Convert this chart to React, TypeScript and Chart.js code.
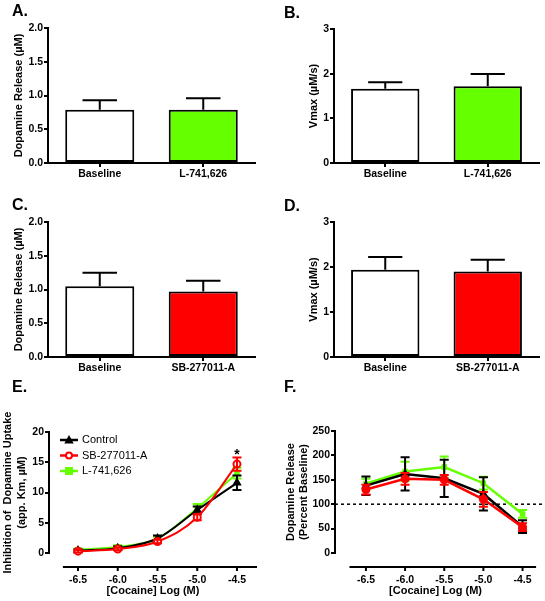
import React, { useEffect, useRef } from "react";
import { Chart, registerables } from "chart.js";

Chart.register(...registerables);
Chart.defaults.font.family = "'Liberation Sans', Arial, sans-serif";
Chart.defaults.color = "#000";

// ---------------- data ----------------
const groupsAB = ["Baseline", "L-741,626"];
const groupsCD = ["Baseline", "SB-277011-A"];

const releaseMeanA = [0.79, 0.79];
const releaseSemA = [0.14, 0.17];
const vmaxMeanB = [1.66, 1.72];
const vmaxSemB = [0.15, 0.27];
const releaseMeanC = [1.05, 0.97];
const releaseSemC = [0.2, 0.16];
const vmaxMeanD = [1.94, 1.9];
const vmaxSemD = [0.28, 0.26];

const releaseTicks = [0, 0.5, 1.0, 1.5, 2.0];
const vmaxTicks = [0, 1, 2, 3];

const cocaineLogM = [-6.5, -6.0, -5.5, -5.0, -4.5];
const uptakeTicks = [0, 5, 10, 15, 20];
const percentTicks = [0, 50, 100, 150, 200, 250];

const seriesNames = ["Control", "SB-277011-A", "L-741,626"];

const uptakeControl = [0.4, 0.8, 2.4, 7.1, 11.6];
const uptakeControlSem = [0.2, 0.3, 0.5, 0.6, 1.2];
const uptakeSB = [0.3, 0.65, 1.9, 5.9, 14.7];
const uptakeSBSem = [0.2, 0.2, 0.3, 0.5, 1.1];
const uptakeL = [0.55, 1.0, 2.4, 7.4, 13.2];
const uptakeLSem = [0.2, 0.3, 0.3, 0.7, 0.9];

const percentControl = [138, 162, 153, 121, 54];
const percentControlSem = [19, 34, 38, 34, 13];
const percentSB = [130, 152, 150, 110, 53];
const percentSBSem = [10, 12, 10, 15, 8];
const percentL = [142, 167, 176, 143, 80];
const percentLSem = [10, 20, 22, 13, 8];

const baselineLevel = 100;
const significance = { x: -4.5, y: 16.9, label: "*" };

// ---------------- style ----------------
const BLACK = "#000000";
const RED = "#ff0000";
const GREEN = "#66ff00";
const TICK_FONT = { size: 10.5, weight: "bold" as const };

// ---------------- plugins ----------------
const errorBarPlugin = {
  id: "errorBars",
  afterDatasetDraw(chart: any, args: any, opts: any) {
    const ds = chart.data.datasets[args.index];
    if (!ds.sems) return;
    const y = chart.scales.y;
    const ctx = chart.ctx;
    ctx.save();
    ctx.strokeStyle = ds.errorColor || ds.borderColor;
    ctx.lineWidth = opts.lineWidth || 2;
    ctx.setLineDash([]);
    args.meta.data.forEach((el: any, i: number) => {
      const d = ds.data[i];
      const v = typeof d === "number" ? d : d.y;
      const s = ds.sems[i];
      const top = y.getPixelForValue(v + s);
      const bottom = opts.oneSided ? el.y : y.getPixelForValue(v - s);
      const half = opts.oneSided ? el.width * opts.capFrac : opts.capHalf;
      ctx.beginPath();
      ctx.moveTo(el.x, bottom);
      ctx.lineTo(el.x, top);
      ctx.moveTo(el.x - half, top);
      ctx.lineTo(el.x + half, top);
      if (!opts.oneSided) {
        ctx.moveTo(el.x - half, bottom);
        ctx.lineTo(el.x + half, bottom);
      }
      ctx.stroke();
    });
    ctx.restore();
  },
};

const offsetAxesPlugin = {
  id: "offsetAxes",
  beforeDatasetsDraw(chart: any, _args: any, opts: any) {
    const { ctx, chartArea } = chart;
    const x = chart.scales.x;
    const y = chart.scales.y;
    ctx.save();
    ctx.strokeStyle = BLACK;
    ctx.lineWidth = 2;
    ctx.beginPath();
    ctx.moveTo(chartArea.left, y.getPixelForValue(y.max) - 1);
    ctx.lineTo(chartArea.left, y.getPixelForValue(0) + 1);
    const xy = chartArea.bottom + opts.gap;
    ctx.moveTo(x.getPixelForValue(opts.xStart), xy);
    ctx.lineTo(x.getPixelForValue(x.max), xy);
    x.ticks.forEach((t: any) => {
      const px = x.getPixelForValue(t.value);
      ctx.moveTo(px, xy);
      ctx.lineTo(px, xy + 4);
    });
    ctx.stroke();
    if (opts.refLine !== undefined) {
      const py = y.getPixelForValue(opts.refLine);
      ctx.setLineDash([3, 3]);
      ctx.lineWidth = 1.5;
      ctx.beginPath();
      ctx.moveTo(chartArea.left, py);
      ctx.lineTo(chart.width, py);
      ctx.stroke();
    }
    ctx.restore();
  },
};

function drawMarker(ctx: any, style: string, cx: number, cy: number, r: number, fill: string, stroke: string) {
  ctx.save();
  ctx.fillStyle = fill;
  ctx.strokeStyle = stroke;
  ctx.lineWidth = 2;
  ctx.beginPath();
  if (style === "triangle") {
    ctx.moveTo(cx, cy - r);
    ctx.lineTo(cx + r, cy + r * 0.8);
    ctx.lineTo(cx - r, cy + r * 0.8);
    ctx.closePath();
  } else if (style === "circle") {
    ctx.arc(cx, cy, r, 0, Math.PI * 2);
  } else {
    ctx.rect(cx - r, cy - r, 2 * r, 2 * r);
  }
  ctx.fill();
  ctx.stroke();
  ctx.restore();
}

const miniLegendPlugin = {
  id: "miniLegend",
  afterDraw(chart: any, _args: any, opts: any) {
    if (!opts.show) return;
    const ctx = chart.ctx;
    ctx.save();
    ctx.font = "11px 'Liberation Sans', Arial, sans-serif";
    ctx.textBaseline = "middle";
    ctx.fillStyle = BLACK;
    chart.data.datasets.forEach((ds: any, i: number) => {
      const yy = opts.y + i * opts.rowGap;
      ctx.strokeStyle = ds.borderColor;
      ctx.lineWidth = 2.5;
      ctx.beginPath();
      ctx.moveTo(opts.x, yy);
      ctx.lineTo(opts.x + opts.lineLength, yy);
      ctx.stroke();
      drawMarker(ctx, ds.pointStyle, opts.x + opts.lineLength / 2, yy, 3, ds.pointBackgroundColor, ds.borderColor);
      ctx.fillStyle = BLACK;
      ctx.fillText(ds.label, opts.x + opts.lineLength + opts.textGap, yy);
    });
    ctx.restore();
  },
};

const significancePlugin = {
  id: "significance",
  afterDraw(chart: any, _args: any, opts: any) {
    if (!opts.show) return;
    const ctx = chart.ctx;
    const px = chart.scales.x.getPixelForValue(significance.x);
    const py = chart.scales.y.getPixelForValue(significance.y);
    ctx.save();
    ctx.font = "bold 14px 'Liberation Sans', Arial, sans-serif";
    ctx.textAlign = "center";
    ctx.textBaseline = "alphabetic";
    ctx.fillStyle = BLACK;
    ctx.fillText(significance.label, px, py + 0.57 * 14);
    ctx.restore();
  },
};

// ---------------- config builders ----------------
function barConfig(p: any) {
  const maxTick = p.ticks[p.ticks.length - 1];
  return {
    type: "bar",
    data: {
      labels: p.labels,
      datasets: [
        {
          data: p.values,
          sems: p.sems,
          errorColor: BLACK,
          backgroundColor: ["#ffffff", p.fill],
          borderColor: BLACK,
          borderWidth: 2,
          borderSkipped: false,
          barPercentage: 0.667,
          categoryPercentage: 1,
        },
      ],
    },
    options: {
      animation: false,
      responsive: false,
      devicePixelRatio: 1,
      layout: { padding: { top: p.padTop, right: p.padRight, left: 0, bottom: 0 } },
      plugins: {
        legend: { display: false },
        tooltip: { enabled: false },
        errorBars: { oneSided: true, capFrac: 0.25, lineWidth: 2 },
      },
      scales: {
        x: {
          grid: { display: true, drawOnChartArea: false, offset: false, tickLength: 4, lineWidth: 2, color: BLACK },
          border: { display: true, width: 2, color: BLACK },
          ticks: { color: BLACK, font: TICK_FONT, padding: 1, maxRotation: 0 },
          afterFit: (s: any) => {
            s.height = p.xHeight;
          },
        },
        y: {
          min: 0,
          max: maxTick,
          afterBuildTicks: (s: any) => {
            s.ticks = p.ticks.map((v: number) => ({ value: v }));
          },
          ticks: {
            color: BLACK,
            font: TICK_FONT,
            padding: 1,
            callback: (v: any) => Number(v).toFixed(p.decimals),
          },
          grid: { display: true, drawOnChartArea: false, tickLength: 4, lineWidth: 2, color: BLACK },
          border: { display: true, width: 2, color: BLACK },
          title: {
            display: true,
            text: p.title,
            color: BLACK,
            font: { size: 11, weight: "bold" },
            padding: { top: p.titlePad, bottom: 0 },
          },
          afterFit: (s: any) => {
            s.width = p.yWidth;
          },
        },
      },
    },
    plugins: [errorBarPlugin],
  };
}

function lineSeries(name: string, values: number[], sems: number[], color: string, style: string, fill: string, order: number, width: number, smooth: boolean) {
  return {
    label: name,
    data: cocaineLogM.map((x, i) => ({ x, y: values[i] })),
    sems,
    borderColor: color,
    backgroundColor: color,
    pointBackgroundColor: fill,
    pointBorderColor: color,
    pointBorderWidth: 2,
    pointStyle: style,
    pointRadius: style === "rect" ? 2.5 : 3.5,
    borderWidth: width,
    cubicInterpolationMode: smooth ? "monotone" : "default",
    tension: 0,
    clip: false,
    order,
  };
}

function lineConfig(p: any) {
  const maxTick = p.yTicks[p.yTicks.length - 1];
  return {
    type: "line",
    data: { datasets: p.datasets },
    options: {
      animation: false,
      responsive: false,
      devicePixelRatio: 1,
      layout: { padding: { top: p.padTop, right: p.padRight, left: 0, bottom: 0 } },
      plugins: {
        legend: { display: false },
        tooltip: { enabled: false },
        errorBars: { oneSided: false, capHalf: 4.5, lineWidth: 2 },
        offsetAxes: { gap: 14, xStart: p.xStart, refLine: p.refLine },
        miniLegend: p.legend,
        significance: { show: p.showStar },
      },
      scales: {
        x: {
          type: "linear",
          min: p.xMin,
          max: p.xMax,
          afterBuildTicks: (s: any) => {
            s.ticks = cocaineLogM.map((v) => ({ value: v }));
          },
          ticks: { color: BLACK, font: TICK_FONT, padding: 13, maxRotation: 0, callback: (v: any) => Number(v).toFixed(1) },
          grid: { display: false },
          border: { display: false },
          title: {
            display: true,
            text: "[Cocaine] Log (M)",
            color: BLACK,
            font: { size: 11, weight: "bold" },
            padding: { top: 0, bottom: 3 },
          },
          afterFit: (s: any) => {
            s.height = 48;
          },
        },
        y: {
          type: "linear",
          min: 0,
          max: maxTick,
          afterBuildTicks: (s: any) => {
            s.ticks = p.yTicks.map((v: number) => ({ value: v }));
          },
          ticks: { color: BLACK, font: TICK_FONT, padding: 1 },
          grid: { display: true, drawOnChartArea: false, tickLength: 4, lineWidth: 2, color: BLACK },
          border: { display: false },
          title: {
            display: true,
            text: p.title,
            color: BLACK,
            font: { size: 11, weight: "bold", lineHeight: p.titleLineHeight },
            padding: { top: p.titlePad, bottom: 0 },
          },
          afterFit: (s: any) => {
            s.width = p.yWidth;
          },
        },
      },
    },
    plugins: [errorBarPlugin, offsetAxesPlugin, miniLegendPlugin, significancePlugin],
  };
}

const buildA = () =>
  barConfig({ labels: groupsAB, values: releaseMeanA, sems: releaseSemA, fill: GREEN, ticks: releaseTicks, decimals: 1, title: "Dopamine Release (µM)", titlePad: 12.4, yWidth: 48, padTop: 28, padRight: 17, xHeight: 32 });
const buildB = () =>
  barConfig({ labels: groupsAB, values: vmaxMeanB, sems: vmaxSemB, fill: GREEN, ticks: vmaxTicks, decimals: 0, title: "Vmax (µM/s)", titlePad: 35.4, yWidth: 62, padTop: 29, padRight: 6, xHeight: 32 });
const buildC = () =>
  barConfig({ labels: groupsCD, values: releaseMeanC, sems: releaseSemC, fill: RED, ticks: releaseTicks, decimals: 1, title: "Dopamine Release (µM)", titlePad: 12.4, yWidth: 48, padTop: 27, padRight: 17, xHeight: 33 });
const buildD = () =>
  barConfig({ labels: groupsCD, values: vmaxMeanD, sems: vmaxSemD, fill: RED, ticks: vmaxTicks, decimals: 0, title: "Vmax (µM/s)", titlePad: 35.4, yWidth: 62, padTop: 27, padRight: 6, xHeight: 33 });

const buildE = () =>
  lineConfig({
    datasets: [
      lineSeries(seriesNames[0], uptakeControl, uptakeControlSem, BLACK, "triangle", BLACK, 1, 2, true),
      lineSeries(seriesNames[1], uptakeSB, uptakeSBSem, RED, "circle", "#ffffff", 0, 2, true),
      lineSeries(seriesNames[2], uptakeL, uptakeLSem, GREEN, "rect", GREEN, 2, 2, true),
    ],
    yTicks: uptakeTicks,
    xMin: -6.865,
    xMax: -4.248,
    xStart: -6.69,
    padTop: 42,
    padRight: 15,
    yWidth: 49,
    title: ["Inhibition of  Dopamine Uptake", "(app. Km, µM)"],
    titlePad: 1.1,
    titleLineHeight: 14 / 11,
    legend: { show: true, x: 60, y: 50, rowGap: 15.5, lineLength: 18, textGap: 4 },
    showStar: true,
  });

const buildF = () =>
  lineConfig({
    datasets: [
      lineSeries(seriesNames[0], percentControl, percentControlSem, BLACK, "triangle", BLACK, 1, 2.5, false),
      lineSeries(seriesNames[1], percentSB, percentSBSem, RED, "circle", RED, 0, 2.5, false),
      lineSeries(seriesNames[2], percentL, percentLSem, GREEN, "rect", GREEN, 2, 2.5, false),
    ],
    yTicks: percentTicks,
    xMin: -6.895,
    xMax: -4.327,
    xStart: -6.71,
    refLine: baselineLevel,
    padTop: 41,
    padRight: 2,
    yWidth: 63,
    title: ["Dopamine Release", "(Percent Baseline)"],
    titlePad: 12.6,
    titleLineHeight: 13 / 11,
    legend: { show: false },
    showStar: false,
  });

// ---------------- components ----------------
function ChartBox({ left, top, width, height, build }: any) {
  const ref = useRef<HTMLCanvasElement>(null);
  useEffect(() => {
    const chart = new Chart(ref.current as HTMLCanvasElement, build() as any);
    return () => chart.destroy();
  }, []);
  return (
    <canvas
      ref={ref}
      width={width}
      height={height}
      style={{ position: "absolute", left, top, width, height, display: "block" }}
    />
  );
}

function PanelLetter({ text, left, top }: any) {
  return (
    <div
      style={{
        position: "absolute",
        left,
        top,
        font: "bold 16px 'Liberation Sans', Arial, sans-serif",
        lineHeight: "16px",
        color: BLACK,
      }}
    >
      {text}
    </div>
  );
}

export default function App() {
  return (
    <div style={{ position: "absolute", left: 0, top: 0, width: 545, height: 601, background: "#fff", overflow: "hidden" }}>
      <ChartBox left={0} top={0} width={272} height={195} build={buildA} />
      <ChartBox left={272} top={0} width={273} height={195} build={buildB} />
      <ChartBox left={0} top={195} width={272} height={195} build={buildC} />
      <ChartBox left={272} top={195} width={273} height={195} build={buildD} />
      <ChartBox left={0} top={390} width={272} height={211} build={buildE} />
      <ChartBox left={272} top={390} width={273} height={211} build={buildF} />
      <PanelLetter text="A." left={12} top={3} />
      <PanelLetter text="B." left={284} top={4.5} />
      <PanelLetter text="C." left={12} top={197} />
      <PanelLetter text="D." left={284} top={198} />
      <PanelLetter text="E." left={12} top={379} />
      <PanelLetter text="F." left={284} top={379} />
    </div>
  );
}
